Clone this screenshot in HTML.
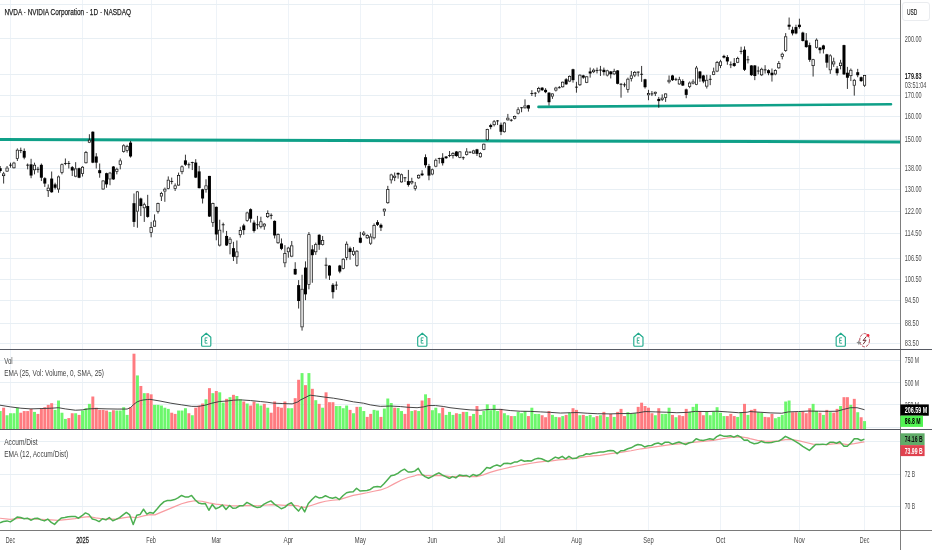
<!DOCTYPE html>
<html><head><meta charset="utf-8"><title>NVDA chart</title>
<style>html,body{margin:0;padding:0;background:#fff;}body{width:932px;height:550px;overflow:hidden;position:relative;font-family:"Liberation Sans",sans-serif;}</style>
</head><body>
<svg width="932" height="550" viewBox="0 0 932 550" style="position:absolute;left:0;top:0;font-family:'Liberation Sans',sans-serif;filter:blur(0.3px)">
<rect width="932" height="550" fill="#fff"/>
<g stroke="#eef3f8" stroke-width="1" shape-rendering="crispEdges">
<line x1="10.5" x2="10.5" y1="0" y2="530"/>
<line x1="82.5" x2="82.5" y1="0" y2="530"/>
<line x1="151.5" x2="151.5" y1="0" y2="530"/>
<line x1="216.5" x2="216.5" y1="0" y2="530"/>
<line x1="288.5" x2="288.5" y1="0" y2="530"/>
<line x1="360.5" x2="360.5" y1="0" y2="530"/>
<line x1="432.5" x2="432.5" y1="0" y2="530"/>
<line x1="500.5" x2="500.5" y1="0" y2="530"/>
<line x1="576.5" x2="576.5" y1="0" y2="530"/>
<line x1="648.5" x2="648.5" y1="0" y2="530"/>
<line x1="720.5" x2="720.5" y1="0" y2="530"/>
<line x1="799.5" x2="799.5" y1="0" y2="530"/>
<line x1="864.5" x2="864.5" y1="0" y2="530"/>
</g>
<g stroke="#e8eff4" stroke-width="1" shape-rendering="crispEdges">
<line x1="0" x2="900" y1="4.5" y2="4.5"/>
<line x1="0" x2="900" y1="38.5" y2="38.5"/>
<line x1="0" x2="900" y1="74.5" y2="74.5"/>
<line x1="0" x2="900" y1="95.5" y2="95.5"/>
<line x1="0" x2="900" y1="116.5" y2="116.5"/>
<line x1="0" x2="900" y1="139.5" y2="139.5"/>
<line x1="0" x2="900" y1="168.5" y2="168.5"/>
<line x1="0" x2="900" y1="189.5" y2="189.5"/>
<line x1="0" x2="900" y1="211.5" y2="211.5"/>
<line x1="0" x2="900" y1="233.5" y2="233.5"/>
<line x1="0" x2="900" y1="258.5" y2="258.5"/>
<line x1="0" x2="900" y1="279.5" y2="279.5"/>
<line x1="0" x2="900" y1="300.5" y2="300.5"/>
<line x1="0" x2="900" y1="323.5" y2="323.5"/>
<line x1="0" x2="900" y1="343.5" y2="343.5"/>
<line x1="0" x2="900" y1="360.5" y2="360.5"/>
<line x1="0" x2="900" y1="382.5" y2="382.5"/>
<line x1="0" x2="900" y1="404.5" y2="404.5"/>
<line x1="0" x2="900" y1="427.5" y2="427.5"/>
<line x1="0" x2="900" y1="441.5" y2="441.5"/>
<line x1="0" x2="900" y1="474.5" y2="474.5"/>
<line x1="0" x2="900" y1="506.5" y2="506.5"/>
</g>
<line x1="0" y1="139.6" x2="900" y2="141.9" stroke="#0fa088" stroke-width="3"/>
<line x1="538.5" y1="106.9" x2="891" y2="104.3" stroke="#0fa088" stroke-width="2.6" stroke-linecap="round"/>
<g stroke="#000" stroke-width="0.8" fill="#000">
<path d="M0.21 166V172.69" fill="none"/><rect x="-1.29" y="168.18" width="3.0" height="2.84" stroke="none"/>
<path d="M3.64 171.86V173.53M3.64 176.04V183.56" fill="none"/><rect x="2.49" y="173.88" width="2.3" height="1.81" fill="#fff" stroke-width="0.7"/>
<path d="M7.07 166V167.68M7.07 171.52V171.86" fill="none"/><rect x="5.92" y="168.03" width="2.3" height="3.15" fill="#fff" stroke-width="0.7"/>
<path d="M10.5 162.66V167.68M9 165.17H12" fill="none"/>
<path d="M13.93 161.82V162.66M13.93 168.18V168.51" fill="none"/><rect x="12.78" y="163.01" width="2.3" height="4.82" fill="#fff" stroke-width="0.7"/>
<path d="M17.36 148.44V149.78M17.36 158.81V160.99" fill="none"/><rect x="16.21" y="150.13" width="2.3" height="8.33" fill="#fff" stroke-width="0.7"/>
<path d="M20.79 147.61V153.13M19.29 150.45H22.29" fill="none"/>
<path d="M24.22 148.44V159.31" fill="none"/><rect x="22.72" y="150.95" width="3.0" height="6.69" stroke="none"/>
<path d="M27.65 163.49V169.35M26.15 165.17H29.15" fill="none"/>
<path d="M31.08 158.81V178.21" fill="none"/><rect x="29.58" y="164.33" width="3.0" height="11.2" stroke="none"/>
<path d="M34.51 162.66V164.83M34.51 170.18V174.36" fill="none"/><rect x="33.36" y="165.18" width="2.3" height="4.65" fill="#fff" stroke-width="0.7"/>
<path d="M37.94 166.84V172.69M36.44 169.35H39.44" fill="none"/>
<path d="M41.37 163.49V181.05" fill="none"/><rect x="39.87" y="164.83" width="3.0" height="12.88" stroke="none"/>
<path d="M44.8 177.21V186.91" fill="none"/><rect x="43.3" y="178.21" width="3.0" height="5.35" stroke="none"/>
<path d="M48.23 184.4V187.74M48.23 191.09V196.94" fill="none"/><rect x="47.08" y="188.09" width="2.3" height="2.64" fill="#fff" stroke-width="0.7"/>
<path d="M51.66 171.52V192.76" fill="none"/><rect x="50.16" y="178.55" width="3.0" height="13.71" stroke="none"/>
<path d="M55.09 182.73V189.41" fill="none"/><rect x="53.59" y="184.4" width="3.0" height="3.34" stroke="none"/>
<path d="M58.52 175.54V176.54M58.52 189.41V192.76" fill="none"/><rect x="57.37" y="176.89" width="2.3" height="12.18" fill="#fff" stroke-width="0.7"/>
<path d="M61.95 163.49V164.33M61.95 172.69V174.36" fill="none"/><rect x="60.8" y="164.68" width="2.3" height="7.66" fill="#fff" stroke-width="0.7"/>
<path d="M65.38 158.48V165.17M63.88 163.49H66.88" fill="none"/>
<path d="M68.81 160.99V168.51M67.31 163.49H70.31" fill="none"/>
<path d="M72.24 166V176.04" fill="none"/><rect x="70.74" y="167.17" width="3.0" height="3.34" stroke="none"/>
<path d="M75.67 162.16V168.51M75.67 176.54V177.21" fill="none"/><rect x="74.52" y="168.86" width="2.3" height="7.33" fill="#fff" stroke-width="0.7"/>
<path d="M79.1 167.68V178.21" fill="none"/><rect x="77.6" y="168.18" width="3.0" height="9.53" stroke="none"/>
<path d="M82.53 166V166.84M82.53 173.86V176.54" fill="none"/><rect x="81.38" y="167.19" width="2.3" height="6.32" fill="#fff" stroke-width="0.7"/>
<path d="M85.96 150.95V152.12M85.96 163.16V163.49" fill="none"/><rect x="84.81" y="152.47" width="2.3" height="10.34" fill="#fff" stroke-width="0.7"/>
<path d="M89.39 134.23V139.75M89.39 142.59V143.09" fill="none"/><rect x="88.24" y="140.1" width="2.3" height="2.14" fill="#fff" stroke-width="0.7"/>
<path d="M92.82 131.39V163.16" fill="none"/><rect x="91.32" y="131.72" width="3.0" height="30.94" stroke="none"/>
<path d="M96.25 153.13V168.51" fill="none"/><rect x="94.75" y="156.47" width="3.0" height="6.19" stroke="none"/>
<path d="M99.68 163.49V177.71" fill="none"/><rect x="98.18" y="170.18" width="3.0" height="3.01" stroke="none"/>
<path d="M103.11 180.22V180.55M103.11 189.41V189.75" fill="none"/><rect x="101.96" y="180.9" width="2.3" height="8.16" fill="#fff" stroke-width="0.7"/>
<path d="M106.54 172.69V187.74" fill="none"/><rect x="105.04" y="173.19" width="3.0" height="11.2" stroke="none"/>
<path d="M109.97 171.86V172.69M109.97 179.38V185.23" fill="none"/><rect x="108.82" y="173.04" width="2.3" height="5.99" fill="#fff" stroke-width="0.7"/>
<path d="M113.4 166V179.88" fill="none"/><rect x="111.9" y="166.51" width="3.0" height="12.88" stroke="none"/>
<path d="M116.83 167.68V168.85M116.83 171.86V174.36" fill="none"/><rect x="115.68" y="169.2" width="2.3" height="2.31" fill="#fff" stroke-width="0.7"/>
<path d="M120.26 158.48V160.48M120.26 164.83V169.35" fill="none"/><rect x="119.11" y="160.83" width="2.3" height="3.65" fill="#fff" stroke-width="0.7"/>
<path d="M123.69 144.26V145.43M123.69 151.79V152.63" fill="none"/><rect x="122.54" y="145.78" width="2.3" height="5.65" fill="#fff" stroke-width="0.7"/>
<path d="M127.12 144.77V145.94M127.12 150.95V152.63" fill="none"/><rect x="125.97" y="146.29" width="2.3" height="4.32" fill="#fff" stroke-width="0.7"/>
<path d="M130.55 140.92V157.64" fill="none"/><rect x="129.05" y="142.59" width="3.0" height="13.88" stroke="none"/>
<path d="M133.98 193.48V226.92" fill="none"/><rect x="132.48" y="203.18" width="3.0" height="18.73" stroke="none"/>
<path d="M137.41 190.97V191.47M137.41 211.54V227.76" fill="none"/><rect x="136.26" y="191.82" width="2.3" height="19.37" fill="#fff" stroke-width="0.7"/>
<path d="M140.84 197.66V216.05" fill="none"/><rect x="139.34" y="198.49" width="3.0" height="7.53" stroke="none"/>
<path d="M144.27 202.68V204.35M144.27 208.19V221.91" fill="none"/><rect x="143.12" y="204.7" width="2.3" height="3.15" fill="#fff" stroke-width="0.7"/>
<path d="M147.7 194.82V217.73" fill="none"/><rect x="146.2" y="206.02" width="3.0" height="10.87" stroke="none"/>
<path d="M151.13 221.91V227.26M151.13 232.78V237.29" fill="none"/><rect x="149.98" y="227.61" width="2.3" height="4.82" fill="#fff" stroke-width="0.7"/>
<path d="M154.56 214.38V220.57M154.56 226.59V226.92" fill="none"/><rect x="153.41" y="220.92" width="2.3" height="5.32" fill="#fff" stroke-width="0.7"/>
<path d="M157.99 202.68V203.18M157.99 211.87V213.55" fill="none"/><rect x="156.84" y="203.53" width="2.3" height="8" fill="#fff" stroke-width="0.7"/>
<path d="M161.42 191.81V193.14M161.42 196.49V201" fill="none"/><rect x="160.27" y="193.49" width="2.3" height="2.64" fill="#fff" stroke-width="0.7"/>
<path d="M164.85 187.63V188.8M164.85 191.47V201.84" fill="none"/><rect x="163.7" y="189.15" width="2.3" height="1.98" fill="#fff" stroke-width="0.7"/>
<path d="M168.28 176.42V179.77M168.28 188.8V189.3" fill="none"/><rect x="167.13" y="180.12" width="2.3" height="8.33" fill="#fff" stroke-width="0.7"/>
<path d="M171.71 177.59V184.28M170.21 181.44H173.21" fill="none"/>
<path d="M175.14 183.44V185.45M175.14 188.8V190.97" fill="none"/><rect x="173.99" y="185.8" width="2.3" height="2.64" fill="#fff" stroke-width="0.7"/>
<path d="M178.57 172.58V175.08M178.57 185.45V185.95" fill="none"/><rect x="177.42" y="175.43" width="2.3" height="9.67" fill="#fff" stroke-width="0.7"/>
<path d="M182 165.38V166.39M182 172.07V174.25" fill="none"/><rect x="180.85" y="166.74" width="2.3" height="4.99" fill="#fff" stroke-width="0.7"/>
<path d="M185.43 154.68V165.89" fill="none"/><rect x="183.93" y="160.37" width="3.0" height="4.35" stroke="none"/>
<path d="M188.86 162.54V168.39M187.36 164.72H190.36" fill="none"/>
<path d="M192.29 161.71V170.07M190.79 162.54H193.79" fill="none"/>
<path d="M195.72 159.2V178.09" fill="none"/><rect x="194.22" y="162.54" width="3.0" height="15.05" stroke="none"/>
<path d="M199.15 165.89V188.46" fill="none"/><rect x="197.65" y="171.4" width="3.0" height="16.72" stroke="none"/>
<path d="M202.58 188.8V203.51" fill="none"/><rect x="201.08" y="189.3" width="3.0" height="9.2" stroke="none"/>
<path d="M206.01 179.26V185.45M206.01 189.8V192.64" fill="none"/><rect x="204.86" y="185.8" width="2.3" height="3.65" fill="#fff" stroke-width="0.7"/>
<path d="M209.44 175.92V216.89" fill="none"/><rect x="207.94" y="175.92" width="3.0" height="40.64" stroke="none"/>
<path d="M212.87 202.68V203.18M212.87 222.74V226.92" fill="none"/><rect x="211.72" y="203.53" width="2.3" height="18.87" fill="#fff" stroke-width="0.7"/>
<path d="M216.3 206.52V240.3" fill="none"/><rect x="214.8" y="206.86" width="3.0" height="27.59" stroke="none"/>
<path d="M219.73 219.73V229.77M219.73 245.48V246.49" fill="none"/><rect x="218.58" y="230.12" width="2.3" height="15.02" fill="#fff" stroke-width="0.7"/>
<path d="M223.16 222.58V232.61M221.66 224.75H224.66" fill="none"/>
<path d="M226.59 230.94V245.99" fill="none"/><rect x="225.09" y="235.95" width="3.0" height="9.53" stroke="none"/>
<path d="M230.02 237.12V238.8M230.02 243.81V254.35" fill="none"/><rect x="228.87" y="239.15" width="2.3" height="4.32" fill="#fff" stroke-width="0.7"/>
<path d="M233.45 241.81V261.04" fill="none"/><rect x="231.95" y="248.16" width="3.0" height="8.7" stroke="none"/>
<path d="M236.88 240.47V251.51M236.88 257.19V263.88" fill="none"/><rect x="235.73" y="251.86" width="2.3" height="4.99" fill="#fff" stroke-width="0.7"/>
<path d="M240.31 226.76V230.1M240.31 235.12V237.63" fill="none"/><rect x="239.16" y="230.45" width="2.3" height="4.32" fill="#fff" stroke-width="0.7"/>
<path d="M243.74 223.75V234.78" fill="none"/><rect x="242.24" y="225.42" width="3.0" height="4.68" stroke="none"/>
<path d="M247.17 211.71V212.54M247.17 220.9V221.74" fill="none"/><rect x="246.02" y="212.89" width="2.3" height="7.66" fill="#fff" stroke-width="0.7"/>
<path d="M250.6 208.36V222.58" fill="none"/><rect x="249.1" y="209.2" width="3.0" height="9.53" stroke="none"/>
<path d="M254.03 220.4V232.61" fill="none"/><rect x="252.53" y="222.58" width="3.0" height="8.36" stroke="none"/>
<path d="M257.46 215.89V229.26M255.96 224.75H258.96" fill="none"/>
<path d="M260.89 216.72V221.4M260.89 227.09V228.43" fill="none"/><rect x="259.74" y="221.75" width="2.3" height="4.99" fill="#fff" stroke-width="0.7"/>
<path d="M264.32 223.08V223.75M264.32 226.42V229.77" fill="none"/><rect x="263.17" y="224.1" width="2.3" height="1.98" fill="#fff" stroke-width="0.7"/>
<path d="M267.75 210.37V213.04M267.75 217.06V218.06" fill="none"/><rect x="266.6" y="213.39" width="2.3" height="3.31" fill="#fff" stroke-width="0.7"/>
<path d="M271.18 213.38V219.23M269.68 215.38H272.68" fill="none"/>
<path d="M274.61 220.4V238.46" fill="none"/><rect x="273.11" y="220.9" width="3.0" height="14.55" stroke="none"/>
<path d="M278.04 233.44V234.28M278.04 243.14V243.81" fill="none"/><rect x="276.89" y="234.63" width="2.3" height="8.16" fill="#fff" stroke-width="0.7"/>
<path d="M281.47 238.46V250.17" fill="none"/><rect x="279.97" y="243.48" width="3.0" height="5.35" stroke="none"/>
<path d="M284.9 245.15V253.18M284.9 263.21V267.22" fill="none"/><rect x="283.75" y="253.53" width="2.3" height="9.33" fill="#fff" stroke-width="0.7"/>
<path d="M288.33 246.82V247.66M288.33 252.17V257.69" fill="none"/><rect x="287.18" y="248.01" width="2.3" height="3.82" fill="#fff" stroke-width="0.7"/>
<path d="M291.76 240.97V245.48M291.76 256.52V257.19" fill="none"/><rect x="290.61" y="245.83" width="2.3" height="10.34" fill="#fff" stroke-width="0.7"/>
<path d="M295.19 262.21V274.92" fill="none"/><rect x="293.69" y="268.9" width="3.0" height="5.52" stroke="none"/>
<path d="M298.62 280.12V308.55" fill="none"/><rect x="297.12" y="285.13" width="3.0" height="15.89" stroke="none"/>
<path d="M302.05 274.77V288.81M302.05 327.27V330.62" fill="none"/><rect x="300.9" y="289.16" width="2.3" height="37.76" fill="#fff" stroke-width="0.7"/>
<path d="M305.48 261.39V300.18" fill="none"/><rect x="303.98" y="267.58" width="3.0" height="26.76" stroke="none"/>
<path d="M308.91 232.1V234.3M308.91 284.8V289.3" fill="none"/><rect x="307.76" y="234.65" width="2.3" height="49.8" fill="#fff" stroke-width="0.7"/>
<path d="M312.34 245.15V282.78" fill="none"/><rect x="310.84" y="249.33" width="3.0" height="5.85" stroke="none"/>
<path d="M315.77 242.64V244.31M315.77 252.17V254.85" fill="none"/><rect x="314.62" y="244.66" width="2.3" height="7.16" fill="#fff" stroke-width="0.7"/>
<path d="M319.2 234.28V249.83" fill="none"/><rect x="317.7" y="234.78" width="3.0" height="10.03" stroke="none"/>
<path d="M322.63 235.95V240.13M322.63 244.82V245.48" fill="none"/><rect x="321.48" y="240.48" width="2.3" height="3.98" fill="#fff" stroke-width="0.7"/>
<path d="M326.06 257.69V278.6M324.56 265.22H327.56" fill="none"/>
<path d="M329.49 265.22V279.93" fill="none"/><rect x="327.99" y="265.55" width="3.0" height="10.03" stroke="none"/>
<path d="M332.92 283.13V298.51" fill="none"/><rect x="331.42" y="284.8" width="3.0" height="7.36" stroke="none"/>
<path d="M336.35 281.45V289.82M334.85 285.13H337.85" fill="none"/>
<path d="M339.78 264.88V273.24" fill="none"/><rect x="338.28" y="265.55" width="3.0" height="6.02" stroke="none"/>
<path d="M343.21 258.19V258.86M343.21 268.9V269.4" fill="none"/><rect x="342.06" y="259.21" width="2.3" height="9.33" fill="#fff" stroke-width="0.7"/>
<path d="M346.64 241.47V243.81M346.64 257.69V260.2" fill="none"/><rect x="345.49" y="244.16" width="2.3" height="13.18" fill="#fff" stroke-width="0.7"/>
<path d="M350.07 246.67V259.72" fill="none"/><rect x="348.57" y="248.34" width="3.0" height="3.68" stroke="none"/>
<path d="M353.5 247.01V250.85M353.5 254.7V255.87" fill="none"/><rect x="352.35" y="251.2" width="2.3" height="3.15" fill="#fff" stroke-width="0.7"/>
<path d="M356.93 250.02V250.85M356.93 265.9V266.74" fill="none"/><rect x="355.78" y="251.2" width="2.3" height="14.35" fill="#fff" stroke-width="0.7"/>
<path d="M360.36 231.86V243.23" fill="none"/><rect x="358.86" y="237.71" width="3.0" height="5.02" stroke="none"/>
<path d="M363.79 231.02V232.69M363.79 234.87V236.04" fill="none"/><rect x="362.64" y="233.04" width="2.3" height="1.47" fill="#fff" stroke-width="0.7"/>
<path d="M367.22 234.36V235.2M367.22 238.21V238.88" fill="none"/><rect x="366.07" y="235.55" width="2.3" height="2.31" fill="#fff" stroke-width="0.7"/>
<path d="M370.65 233.53V236.54M370.65 243.56V244.9" fill="none"/><rect x="369.5" y="236.89" width="2.3" height="6.32" fill="#fff" stroke-width="0.7"/>
<path d="M374.08 223.49V225.17M374.08 238.21V239.38" fill="none"/><rect x="372.93" y="225.52" width="2.3" height="12.34" fill="#fff" stroke-width="0.7"/>
<path d="M377.51 220.15V226" fill="none"/><rect x="376.01" y="222.16" width="3.0" height="2.68" stroke="none"/>
<path d="M380.94 223.49V231.02" fill="none"/><rect x="379.44" y="224.83" width="3.0" height="2.84" stroke="none"/>
<path d="M384.37 208.44V208.78M384.37 211.45V215.97" fill="none"/><rect x="383.22" y="209.13" width="2.3" height="1.98" fill="#fff" stroke-width="0.7"/>
<path d="M387.8 185.87V189.21M387.8 203.09V203.76" fill="none"/><rect x="386.65" y="189.56" width="2.3" height="13.18" fill="#fff" stroke-width="0.7"/>
<path d="M391.23 173.73V174.55M391.23 180.28V183.55" fill="none"/><rect x="390.08" y="174.9" width="2.3" height="5.03" fill="#fff" stroke-width="0.7"/>
<path d="M394.66 172.5V175.78M394.66 177.82V181.1" fill="none"/><rect x="393.51" y="176.13" width="2.3" height="1.35" fill="#fff" stroke-width="0.7"/>
<path d="M398.09 172.5V178.64" fill="none"/><rect x="396.59" y="172.91" width="3.0" height="1.64" stroke="none"/>
<path d="M401.52 173.58V174.41M401.52 182.27V182.78" fill="none"/><rect x="400.37" y="174.76" width="2.3" height="7.16" fill="#fff" stroke-width="0.7"/>
<path d="M404.95 177.26V181.94M403.45 177.76H406.45" fill="none"/>
<path d="M408.38 169.9V186.62" fill="none"/><rect x="406.88" y="181.1" width="3.0" height="3.85" stroke="none"/>
<path d="M411.81 177.76V181.1M411.81 183.28V184.45" fill="none"/><rect x="410.66" y="181.45" width="2.3" height="1.47" fill="#fff" stroke-width="0.7"/>
<path d="M415.24 181.94V185.62M415.24 188.96V190.64" fill="none"/><rect x="414.09" y="185.97" width="2.3" height="2.64" fill="#fff" stroke-width="0.7"/>
<path d="M418.67 174.41V174.92M418.67 178.26V178.93" fill="none"/><rect x="417.52" y="175.27" width="2.3" height="2.64" fill="#fff" stroke-width="0.7"/>
<path d="M422.1 170.23V176.09" fill="none"/><rect x="420.6" y="173.58" width="3.0" height="1.67" stroke="none"/>
<path d="M425.53 154.35V167.73" fill="none"/><rect x="424.03" y="157.19" width="3.0" height="8.03" stroke="none"/>
<path d="M428.96 163.88V180.27" fill="none"/><rect x="427.46" y="166.05" width="3.0" height="9.53" stroke="none"/>
<path d="M432.39 168.56V169.4M432.39 174.41V175.25" fill="none"/><rect x="431.24" y="169.75" width="2.3" height="4.32" fill="#fff" stroke-width="0.7"/>
<path d="M435.82 158.53V159.87M435.82 166.56V167.22" fill="none"/><rect x="434.67" y="160.22" width="2.3" height="5.99" fill="#fff" stroke-width="0.7"/>
<path d="M439.25 157.69V163.55M437.75 158.53H440.75" fill="none"/>
<path d="M442.68 153.18V165.55" fill="none"/><rect x="441.18" y="157.69" width="3.0" height="5.52" stroke="none"/>
<path d="M446.11 156.02V158.86" fill="none"/><rect x="444.61" y="156.52" width="3.0" height="1.67" stroke="none"/>
<path d="M449.54 151V157.19M448.04 155.52H451.04" fill="none"/>
<path d="M452.97 152.17V153.18M452.97 156.02V158.53" fill="none"/><rect x="451.82" y="153.53" width="2.3" height="2.14" fill="#fff" stroke-width="0.7"/>
<path d="M456.4 151V156.86" fill="none"/><rect x="454.9" y="151.51" width="3.0" height="4.52" stroke="none"/>
<path d="M459.83 151V151.51M459.83 157.69V158.19" fill="none"/><rect x="458.68" y="151.86" width="2.3" height="5.49" fill="#fff" stroke-width="0.7"/>
<path d="M463.26 156.52V159.87M461.76 157.69H464.76" fill="none"/>
<path d="M466.69 148.16V151.51M466.69 154.85V155.52" fill="none"/><rect x="465.54" y="151.86" width="2.3" height="2.64" fill="#fff" stroke-width="0.7"/>
<path d="M470.12 151.51V153.18M468.62 152.17H471.62" fill="none"/>
<path d="M473.55 149.83V150.5M473.55 153.51V153.85" fill="none"/><rect x="472.4" y="150.85" width="2.3" height="2.31" fill="#fff" stroke-width="0.7"/>
<path d="M476.98 148.83V156.02" fill="none"/><rect x="475.48" y="149.33" width="3.0" height="4.52" stroke="none"/>
<path d="M480.41 152.17V153.18M480.41 157.19V157.69" fill="none"/><rect x="479.26" y="153.53" width="2.3" height="3.31" fill="#fff" stroke-width="0.7"/>
<path d="M483.84 143.48V143.81M483.84 149.83V150.17" fill="none"/><rect x="482.69" y="144.16" width="2.3" height="5.32" fill="#fff" stroke-width="0.7"/>
<path d="M487.27 128.76V129.26M487.27 140.13V140.64" fill="none"/><rect x="486.12" y="129.61" width="2.3" height="10.17" fill="#fff" stroke-width="0.7"/>
<path d="M490.7 123.75V129.26" fill="none"/><rect x="489.2" y="125.08" width="3.0" height="2.01" stroke="none"/>
<path d="M494.13 120.07V121.4M494.13 125.08V126.42" fill="none"/><rect x="492.98" y="121.75" width="2.3" height="2.98" fill="#fff" stroke-width="0.7"/>
<path d="M497.56 120.07V125.08M496.06 120.9H499.06" fill="none"/>
<path d="M500.99 122.58V135.12" fill="none"/><rect x="499.49" y="124.75" width="3.0" height="7.02" stroke="none"/>
<path d="M504.42 122.07V122.58M504.42 132.11V132.61" fill="none"/><rect x="503.27" y="122.93" width="2.3" height="8.83" fill="#fff" stroke-width="0.7"/>
<path d="M507.85 113.91V117.76M507.85 120.27V120.6" fill="none"/><rect x="506.7" y="118.11" width="2.3" height="1.81" fill="#fff" stroke-width="0.7"/>
<path d="M511.28 118.93V121.61M509.78 120.27H512.78" fill="none"/>
<path d="M514.71 115.59V116.09M514.71 118.6V119.43" fill="none"/><rect x="513.56" y="116.44" width="2.3" height="1.81" fill="#fff" stroke-width="0.7"/>
<path d="M518.14 107.22V109.4M518.14 113.58V114.41" fill="none"/><rect x="516.99" y="109.75" width="2.3" height="3.48" fill="#fff" stroke-width="0.7"/>
<path d="M521.57 107.22V112.24M520.07 107.73H523.07" fill="none"/>
<path d="M525 99.36V105.55M525 108.23V108.56" fill="none"/><rect x="523.85" y="105.9" width="2.3" height="1.98" fill="#fff" stroke-width="0.7"/>
<path d="M528.43 104.88V111.57" fill="none"/><rect x="526.93" y="105.22" width="3.0" height="3.34" stroke="none"/>
<path d="M531.86 90.17V96.02M530.36 93.51H533.36" fill="none"/>
<path d="M535.29 92.17V96.86M533.79 93.18H536.79" fill="none"/>
<path d="M538.72 86.82V88.16M538.72 91.51V93.18" fill="none"/><rect x="537.57" y="88.51" width="2.3" height="2.64" fill="#fff" stroke-width="0.7"/>
<path d="M542.15 87.16V91" fill="none"/><rect x="540.65" y="87.66" width="3.0" height="2.51" stroke="none"/>
<path d="M545.58 88.16V93.18" fill="none"/><rect x="544.08" y="89.83" width="3.0" height="2.34" stroke="none"/>
<path d="M549.01 92.17V105.55" fill="none"/><rect x="547.51" y="92.68" width="3.0" height="9.53" stroke="none"/>
<path d="M552.44 93.18V93.51M552.44 96.52V98.86" fill="none"/><rect x="551.29" y="93.86" width="2.3" height="2.31" fill="#fff" stroke-width="0.7"/>
<path d="M555.87 86.82V87.66M555.87 90.5V91.51" fill="none"/><rect x="554.72" y="88.01" width="2.3" height="2.14" fill="#fff" stroke-width="0.7"/>
<path d="M559.3 85.99V88.49M557.8 87.66H560.8" fill="none"/>
<path d="M562.73 81.47V81.81M562.73 87.16V87.66" fill="none"/><rect x="561.58" y="82.16" width="2.3" height="4.65" fill="#fff" stroke-width="0.7"/>
<path d="M566.16 78.13V84.82" fill="none"/><rect x="564.66" y="79.3" width="3.0" height="5.02" stroke="none"/>
<path d="M569.59 75.45V75.95M569.59 81.47V82.14" fill="none"/><rect x="568.44" y="76.3" width="2.3" height="4.82" fill="#fff" stroke-width="0.7"/>
<path d="M573.02 68.76V82.64" fill="none"/><rect x="571.52" y="69.26" width="3.0" height="10.87" stroke="none"/>
<path d="M576.45 81.81V92.68M574.95 87.16H577.95" fill="none"/>
<path d="M579.88 74.28V74.78M579.88 85.15V85.99" fill="none"/><rect x="578.73" y="75.13" width="2.3" height="9.67" fill="#fff" stroke-width="0.7"/>
<path d="M583.31 74.78V78.8" fill="none"/><rect x="581.81" y="75.45" width="3.0" height="2.17" stroke="none"/>
<path d="M586.74 75.95V76.45M586.74 82.64V83.14" fill="none"/><rect x="585.59" y="76.8" width="2.3" height="5.49" fill="#fff" stroke-width="0.7"/>
<path d="M590.17 67.59V77.63" fill="none"/><rect x="588.67" y="71.44" width="3.0" height="2.01" stroke="none"/>
<path d="M593.6 68.43V69.77M593.6 72.11V73.11" fill="none"/><rect x="592.45" y="70.12" width="2.3" height="1.64" fill="#fff" stroke-width="0.7"/>
<path d="M597.03 67.59V73.44M595.53 70.43H598.53" fill="none"/>
<path d="M600.46 65.92V75.95M598.96 70.1H601.96" fill="none"/>
<path d="M603.89 67.59V75.45" fill="none"/><rect x="602.39" y="69.77" width="3.0" height="2.34" stroke="none"/>
<path d="M607.32 69.77V70.43M607.32 75.45V76.45" fill="none"/><rect x="606.17" y="70.78" width="2.3" height="4.32" fill="#fff" stroke-width="0.7"/>
<path d="M610.75 70.94V78.46" fill="none"/><rect x="609.25" y="71.44" width="3.0" height="2.84" stroke="none"/>
<path d="M614.18 68.76V70.94M614.18 74.28V75.12" fill="none"/><rect x="613.03" y="71.29" width="2.3" height="2.64" fill="#fff" stroke-width="0.7"/>
<path d="M617.61 70.1V84.31" fill="none"/><rect x="616.11" y="70.43" width="3.0" height="13.38" stroke="none"/>
<path d="M621.04 83.14V97.69M619.54 84.31H622.54" fill="none"/>
<path d="M624.47 82.64V87.16M622.97 84.82H625.97" fill="none"/>
<path d="M627.9 77.63V78.8M627.9 89.83V92.68" fill="none"/><rect x="626.75" y="79.15" width="2.3" height="10.34" fill="#fff" stroke-width="0.7"/>
<path d="M631.33 70.94V75.45M631.33 78.8V81.47" fill="none"/><rect x="630.18" y="75.8" width="2.3" height="2.64" fill="#fff" stroke-width="0.7"/>
<path d="M634.76 70.94V72.11M634.76 75.45V77.12" fill="none"/><rect x="633.61" y="72.46" width="2.3" height="2.64" fill="#fff" stroke-width="0.7"/>
<path d="M638.19 71.44V76.45M636.69 72.11H639.69" fill="none"/>
<path d="M641.62 65.95V81.84M640.12 74.31H643.12" fill="none"/>
<path d="M645.05 78.83V88.53" fill="none"/><rect x="643.55" y="79.33" width="3.0" height="7.86" stroke="none"/>
<path d="M648.48 89.87V93.21M648.48 95.22V100.23" fill="none"/><rect x="647.33" y="93.56" width="2.3" height="1.31" fill="#fff" stroke-width="0.7"/>
<path d="M651.91 91.04V96.05M650.41 93.88H653.41" fill="none"/>
<path d="M655.34 91.54V91.87M655.34 93.88V96.05" fill="none"/><rect x="654.19" y="92.22" width="2.3" height="1.31" fill="#fff" stroke-width="0.7"/>
<path d="M658.77 96.89V107.76" fill="none"/><rect x="657.27" y="98.9" width="3.0" height="2.17" stroke="none"/>
<path d="M662.2 94.38V97.73M662.2 99.9V101.07" fill="none"/><rect x="661.05" y="98.08" width="2.3" height="1.47" fill="#fff" stroke-width="0.7"/>
<path d="M665.63 93.21V93.55M665.63 97.73V101.91" fill="none"/><rect x="664.48" y="93.9" width="2.3" height="3.48" fill="#fff" stroke-width="0.7"/>
<path d="M669.06 75.48V79.83M669.06 82.17V83.51" fill="none"/><rect x="667.91" y="80.18" width="2.3" height="1.64" fill="#fff" stroke-width="0.7"/>
<path d="M672.49 74.82V81" fill="none"/><rect x="670.99" y="75.48" width="3.0" height="4.68" stroke="none"/>
<path d="M675.92 77.66V81M674.42 79.33H677.42" fill="none"/>
<path d="M679.35 76.82V79.33M679.35 84.35V84.85" fill="none"/><rect x="678.2" y="79.68" width="2.3" height="4.32" fill="#fff" stroke-width="0.7"/>
<path d="M682.78 79.33V86.02" fill="none"/><rect x="681.28" y="81" width="3.0" height="4.52" stroke="none"/>
<path d="M686.21 88.53V98.23" fill="none"/><rect x="684.71" y="89.36" width="3.0" height="5.52" stroke="none"/>
<path d="M689.64 81.51V82.68M689.64 86.86V88.19" fill="none"/><rect x="688.49" y="83.03" width="2.3" height="3.48" fill="#fff" stroke-width="0.7"/>
<path d="M693.07 79.33V81.51M693.07 83.51V84.35" fill="none"/><rect x="691.92" y="81.86" width="2.3" height="1.31" fill="#fff" stroke-width="0.7"/>
<path d="M696.5 65.95V67.63M696.5 84.85V85.18" fill="none"/><rect x="695.35" y="67.98" width="2.3" height="16.52" fill="#fff" stroke-width="0.7"/>
<path d="M699.93 70.97V81.84" fill="none"/><rect x="698.43" y="71.47" width="3.0" height="7.02" stroke="none"/>
<path d="M703.36 74.82V83.18" fill="none"/><rect x="701.86" y="75.48" width="3.0" height="6.02" stroke="none"/>
<path d="M706.79 74.82V79.83M706.79 86.52V88.53" fill="none"/><rect x="705.64" y="80.18" width="2.3" height="5.99" fill="#fff" stroke-width="0.7"/>
<path d="M710.22 75.15V85.18M708.72 79.33H711.72" fill="none"/>
<path d="M713.65 67.63V71.47M713.65 74.82V75.15" fill="none"/><rect x="712.5" y="71.82" width="2.3" height="2.64" fill="#fff" stroke-width="0.7"/>
<path d="M717.08 60.94V62.11M717.08 71.47V72.14" fill="none"/><rect x="715.93" y="62.46" width="2.3" height="8.66" fill="#fff" stroke-width="0.7"/>
<path d="M720.51 59.77V61.44M720.51 65.95V68.13" fill="none"/><rect x="719.36" y="61.79" width="2.3" height="3.82" fill="#fff" stroke-width="0.7"/>
<path d="M723.94 54.75V58.43" fill="none"/><rect x="722.44" y="55.92" width="3.0" height="1.67" stroke="none"/>
<path d="M727.37 55.08V64.78" fill="none"/><rect x="725.87" y="57.09" width="3.0" height="4.35" stroke="none"/>
<path d="M730.8 61.44V68.13M729.3 64.78H732.3" fill="none"/>
<path d="M734.23 58.09V66.79" fill="none"/><rect x="732.73" y="63.11" width="3.0" height="2.84" stroke="none"/>
<path d="M737.66 56.76V58.09M737.66 62.61V63.11" fill="none"/><rect x="736.51" y="58.44" width="2.3" height="3.82" fill="#fff" stroke-width="0.7"/>
<path d="M741.09 46.72V54.25M739.59 51.4H742.59" fill="none"/>
<path d="M744.52 46.39V70.97" fill="none"/><rect x="743.02" y="49.73" width="3.0" height="20.07" stroke="none"/>
<path d="M747.95 55.92V63.44M746.45 59.77H749.45" fill="none"/>
<path d="M751.38 65.12V75.99" fill="none"/><rect x="749.88" y="65.45" width="3.0" height="9.7" stroke="none"/>
<path d="M754.81 65.12V80.17" fill="none"/><rect x="753.31" y="65.45" width="3.0" height="10.54" stroke="none"/>
<path d="M758.24 66.52V74.38M756.74 71.04H759.74" fill="none"/>
<path d="M761.67 67.69V68.86M761.67 75.22V76.05" fill="none"/><rect x="760.52" y="69.21" width="2.3" height="5.65" fill="#fff" stroke-width="0.7"/>
<path d="M765.1 65.18V73.55M763.6 69.87H766.6" fill="none"/>
<path d="M768.53 69.36V75.22" fill="none"/><rect x="767.03" y="70.2" width="3.0" height="3.01" stroke="none"/>
<path d="M771.96 68.53V81.57" fill="none"/><rect x="770.46" y="72.71" width="3.0" height="2.51" stroke="none"/>
<path d="M775.39 69.36V70.2M775.39 74.38V75.22" fill="none"/><rect x="774.24" y="70.55" width="2.3" height="3.48" fill="#fff" stroke-width="0.7"/>
<path d="M778.82 61V63.18M778.82 68.19V68.86" fill="none"/><rect x="777.67" y="63.53" width="2.3" height="4.32" fill="#fff" stroke-width="0.7"/>
<path d="M782.25 52.64V53.81M782.25 56.82V59.33" fill="none"/><rect x="781.1" y="54.16" width="2.3" height="2.31" fill="#fff" stroke-width="0.7"/>
<path d="M785.68 33.08V36.42M785.68 50.97V51.81" fill="none"/><rect x="784.53" y="36.77" width="2.3" height="13.85" fill="#fff" stroke-width="0.7"/>
<path d="M789.11 17.53V29.73" fill="none"/><rect x="787.61" y="24.72" width="3.0" height="2.01" stroke="none"/>
<path d="M792.54 26.72V35.42" fill="none"/><rect x="791.04" y="29.73" width="3.0" height="3.68" stroke="none"/>
<path d="M795.97 24.72V34.25" fill="none"/><rect x="794.47" y="27.06" width="3.0" height="6.35" stroke="none"/>
<path d="M799.4 18.7V28.73" fill="none"/><rect x="797.9" y="24.72" width="3.0" height="2.34" stroke="none"/>
<path d="M802.83 31.74V41.44" fill="none"/><rect x="801.33" y="32.58" width="3.0" height="8.36" stroke="none"/>
<path d="M806.26 33.08V47.63" fill="none"/><rect x="804.76" y="40.43" width="3.0" height="6.69" stroke="none"/>
<path d="M809.69 42.61V61.84" fill="none"/><rect x="808.19" y="45.12" width="3.0" height="14.72" stroke="none"/>
<path d="M813.12 58.83V59.33M813.12 66.02V76.56" fill="none"/><rect x="811.97" y="59.68" width="2.3" height="5.99" fill="#fff" stroke-width="0.7"/>
<path d="M816.55 38.43V39.77M816.55 47.63V48.46" fill="none"/><rect x="815.4" y="40.12" width="2.3" height="7.16" fill="#fff" stroke-width="0.7"/>
<path d="M819.98 47.12V53.48" fill="none"/><rect x="818.48" y="47.63" width="3.0" height="2.51" stroke="none"/>
<path d="M823.41 44.78V53.48" fill="none"/><rect x="821.91" y="45.45" width="3.0" height="3.85" stroke="none"/>
<path d="M826.84 53.81V67.69" fill="none"/><rect x="825.34" y="54.31" width="3.0" height="8.36" stroke="none"/>
<path d="M830.27 54.31V55.48M830.27 70.2V73.88" fill="none"/><rect x="829.12" y="55.83" width="2.3" height="14.02" fill="#fff" stroke-width="0.7"/>
<path d="M833.7 57.66V61.51M833.7 64.35V66.86" fill="none"/><rect x="832.55" y="61.86" width="2.3" height="2.14" fill="#fff" stroke-width="0.7"/>
<path d="M837.13 66.02V75.55" fill="none"/><rect x="835.63" y="68.53" width="3.0" height="4.68" stroke="none"/>
<path d="M840.56 59.83V62.68M840.56 66.02V69.36" fill="none"/><rect x="839.41" y="63.03" width="2.3" height="2.64" fill="#fff" stroke-width="0.7"/>
<path d="M843.99 44.78V74.88" fill="none"/><rect x="842.49" y="45.12" width="3.0" height="29.26" stroke="none"/>
<path d="M847.42 66.86V88.93" fill="none"/><rect x="845.92" y="72.71" width="3.0" height="5.02" stroke="none"/>
<path d="M850.85 68.53V69.87M850.85 76.05V81.07" fill="none"/><rect x="849.7" y="70.22" width="2.3" height="5.49" fill="#fff" stroke-width="0.7"/>
<path d="M854.28 78.9V79.9M854.28 85.59V95.62" fill="none"/><rect x="853.13" y="80.25" width="2.3" height="4.99" fill="#fff" stroke-width="0.7"/>
<path d="M857.71 68.86V77.22" fill="none"/><rect x="856.21" y="72.21" width="3.0" height="3.01" stroke="none"/>
<path d="M861.14 76.56V81.91" fill="none"/><rect x="859.64" y="77.22" width="3.0" height="3.85" stroke="none"/>
<path d="M864.57 74.88V75.22M864.57 85.59V86.92" fill="none"/><rect x="863.42" y="75.57" width="2.3" height="9.67" fill="#fff" stroke-width="0.7"/>
</g>
<g fill="#6cf76c">
<rect x="-1.27" y="411.05" width="2.95" height="17.95"/>
<rect x="5.6" y="415.23" width="2.95" height="13.77"/>
<rect x="9.03" y="413.23" width="2.95" height="15.77"/>
<rect x="12.46" y="413.23" width="2.95" height="15.77"/>
<rect x="15.88" y="407.71" width="2.95" height="21.29"/>
<rect x="33.04" y="411.89" width="2.95" height="17.11"/>
<rect x="53.62" y="409.88" width="2.95" height="19.12"/>
<rect x="57.05" y="400.52" width="2.95" height="28.48"/>
<rect x="60.48" y="412.73" width="2.95" height="16.27"/>
<rect x="63.9" y="418.91" width="2.95" height="10.09"/>
<rect x="74.2" y="413.23" width="2.95" height="15.77"/>
<rect x="81.06" y="410.55" width="2.95" height="18.45"/>
<rect x="84.49" y="408.21" width="2.95" height="20.79"/>
<rect x="87.92" y="403.86" width="2.95" height="25.14"/>
<rect x="108.5" y="411.89" width="2.95" height="17.11"/>
<rect x="115.36" y="410.55" width="2.95" height="18.45"/>
<rect x="118.79" y="410.55" width="2.95" height="18.45"/>
<rect x="122.22" y="407.21" width="2.95" height="21.79"/>
<rect x="125.65" y="414.9" width="2.95" height="14.1"/>
<rect x="135.94" y="375.43" width="2.95" height="53.57"/>
<rect x="142.8" y="393.16" width="2.95" height="35.84"/>
<rect x="153.09" y="404.87" width="2.95" height="24.13"/>
<rect x="156.52" y="404.87" width="2.95" height="24.13"/>
<rect x="159.95" y="405.54" width="2.95" height="23.46"/>
<rect x="163.38" y="407.71" width="2.95" height="21.29"/>
<rect x="166.81" y="408.88" width="2.95" height="20.12"/>
<rect x="177.1" y="410.55" width="2.95" height="18.45"/>
<rect x="180.53" y="410.55" width="2.95" height="18.45"/>
<rect x="183.96" y="408.21" width="2.95" height="20.79"/>
<rect x="190.82" y="415.23" width="2.95" height="13.77"/>
<rect x="204.54" y="399.35" width="2.95" height="29.65"/>
<rect x="211.4" y="393.16" width="2.95" height="35.84"/>
<rect x="218.26" y="392.32" width="2.95" height="36.68"/>
<rect x="221.69" y="402.69" width="2.95" height="26.31"/>
<rect x="228.55" y="397.17" width="2.95" height="31.83"/>
<rect x="235.41" y="396" width="2.95" height="33"/>
<rect x="238.84" y="399.35" width="2.95" height="29.65"/>
<rect x="245.7" y="403.53" width="2.95" height="25.47"/>
<rect x="255.99" y="403.53" width="2.95" height="25.47"/>
<rect x="259.41" y="405.54" width="2.95" height="23.46"/>
<rect x="266.27" y="407.71" width="2.95" height="21.29"/>
<rect x="286.86" y="408.21" width="2.95" height="20.79"/>
<rect x="290.28" y="408.21" width="2.95" height="20.79"/>
<rect x="300.57" y="373.09" width="2.95" height="55.91"/>
<rect x="307.44" y="373.09" width="2.95" height="55.91"/>
<rect x="314.3" y="400.18" width="2.95" height="28.82"/>
<rect x="321.15" y="407.71" width="2.95" height="21.29"/>
<rect x="334.88" y="406.04" width="2.95" height="22.96"/>
<rect x="338.31" y="406.04" width="2.95" height="22.96"/>
<rect x="341.74" y="408.21" width="2.95" height="20.79"/>
<rect x="345.17" y="405.54" width="2.95" height="23.46"/>
<rect x="352.02" y="413.23" width="2.95" height="15.77"/>
<rect x="358.88" y="406.87" width="2.95" height="22.13"/>
<rect x="362.31" y="411.05" width="2.95" height="17.95"/>
<rect x="372.61" y="409.88" width="2.95" height="19.12"/>
<rect x="376.03" y="410.55" width="2.95" height="18.45"/>
<rect x="382.89" y="408.55" width="2.95" height="20.45"/>
<rect x="386.32" y="398.51" width="2.95" height="30.49"/>
<rect x="389.75" y="403.03" width="2.95" height="25.97"/>
<rect x="396.62" y="408.04" width="2.95" height="20.96"/>
<rect x="400.05" y="411.05" width="2.95" height="17.95"/>
<rect x="410.33" y="411.05" width="2.95" height="17.95"/>
<rect x="417.19" y="411.05" width="2.95" height="17.95"/>
<rect x="424.06" y="394.33" width="2.95" height="34.67"/>
<rect x="430.92" y="410.22" width="2.95" height="18.78"/>
<rect x="434.34" y="407.71" width="2.95" height="21.29"/>
<rect x="437.77" y="413.23" width="2.95" height="15.77"/>
<rect x="444.63" y="414.9" width="2.95" height="14.1"/>
<rect x="448.06" y="411.89" width="2.95" height="17.11"/>
<rect x="451.5" y="414.9" width="2.95" height="14.1"/>
<rect x="458.36" y="413.9" width="2.95" height="15.1"/>
<rect x="465.21" y="411.89" width="2.95" height="17.11"/>
<rect x="472.07" y="413.9" width="2.95" height="15.1"/>
<rect x="478.94" y="414.9" width="2.95" height="14.1"/>
<rect x="482.37" y="411.05" width="2.95" height="17.95"/>
<rect x="485.8" y="404.36" width="2.95" height="24.64"/>
<rect x="489.23" y="410.22" width="2.95" height="18.78"/>
<rect x="492.65" y="404.87" width="2.95" height="24.13"/>
<rect x="496.08" y="411.05" width="2.95" height="17.95"/>
<rect x="502.94" y="413.23" width="2.95" height="15.77"/>
<rect x="506.38" y="415.23" width="2.95" height="13.77"/>
<rect x="513.24" y="416.07" width="2.95" height="12.93"/>
<rect x="516.67" y="411.89" width="2.95" height="17.11"/>
<rect x="520.1" y="413.23" width="2.95" height="15.77"/>
<rect x="523.52" y="411.05" width="2.95" height="17.95"/>
<rect x="530.38" y="407.71" width="2.95" height="21.29"/>
<rect x="533.82" y="413.9" width="2.95" height="15.1"/>
<rect x="537.25" y="413.9" width="2.95" height="15.1"/>
<rect x="550.97" y="414.9" width="2.95" height="14.1"/>
<rect x="554.39" y="416.91" width="2.95" height="12.09"/>
<rect x="561.25" y="416.07" width="2.95" height="12.93"/>
<rect x="568.12" y="412.73" width="2.95" height="16.27"/>
<rect x="578.4" y="415.23" width="2.95" height="13.77"/>
<rect x="585.26" y="416.07" width="2.95" height="12.93"/>
<rect x="588.7" y="414.9" width="2.95" height="14.1"/>
<rect x="592.12" y="417.24" width="2.95" height="11.76"/>
<rect x="598.99" y="415.23" width="2.95" height="13.77"/>
<rect x="605.85" y="416.91" width="2.95" height="12.09"/>
<rect x="612.71" y="416.91" width="2.95" height="12.09"/>
<rect x="626.42" y="412.22" width="2.95" height="16.78"/>
<rect x="629.86" y="413.9" width="2.95" height="15.1"/>
<rect x="633.28" y="413.23" width="2.95" height="15.77"/>
<rect x="653.87" y="415.23" width="2.95" height="13.77"/>
<rect x="660.73" y="413.9" width="2.95" height="15.1"/>
<rect x="664.15" y="413.9" width="2.95" height="15.1"/>
<rect x="667.59" y="407.71" width="2.95" height="21.29"/>
<rect x="674.45" y="417.24" width="2.95" height="11.76"/>
<rect x="688.16" y="411.89" width="2.95" height="17.11"/>
<rect x="691.6" y="406.87" width="2.95" height="22.13"/>
<rect x="695.02" y="403.86" width="2.95" height="25.14"/>
<rect x="705.32" y="411.56" width="2.95" height="17.44"/>
<rect x="708.75" y="415.23" width="2.95" height="13.77"/>
<rect x="712.17" y="411.56" width="2.95" height="17.44"/>
<rect x="715.61" y="407.21" width="2.95" height="21.79"/>
<rect x="719.03" y="412.73" width="2.95" height="16.27"/>
<rect x="722.47" y="416.07" width="2.95" height="12.93"/>
<rect x="736.19" y="416.91" width="2.95" height="12.09"/>
<rect x="739.62" y="412.22" width="2.95" height="16.78"/>
<rect x="746.48" y="414.9" width="2.95" height="14.1"/>
<rect x="756.76" y="412.22" width="2.95" height="16.78"/>
<rect x="760.2" y="412.73" width="2.95" height="16.27"/>
<rect x="773.91" y="418.24" width="2.95" height="10.76"/>
<rect x="777.35" y="416.91" width="2.95" height="12.09"/>
<rect x="780.77" y="414.9" width="2.95" height="14.1"/>
<rect x="784.21" y="401.52" width="2.95" height="27.48"/>
<rect x="787.63" y="400.52" width="2.95" height="28.48"/>
<rect x="797.93" y="412.22" width="2.95" height="16.78"/>
<rect x="811.64" y="403.86" width="2.95" height="25.14"/>
<rect x="815.08" y="411.05" width="2.95" height="17.95"/>
<rect x="821.94" y="414.9" width="2.95" height="14.1"/>
<rect x="828.79" y="412.22" width="2.95" height="16.78"/>
<rect x="839.09" y="406.04" width="2.95" height="22.96"/>
<rect x="849.38" y="404.87" width="2.95" height="24.13"/>
<rect x="856.24" y="412.22" width="2.95" height="16.78"/>
<rect x="863.1" y="421.09" width="2.95" height="7.91"/>
</g>
<g fill="#ff7b80">
<rect x="2.16" y="407.71" width="2.95" height="21.29"/>
<rect x="19.31" y="412.73" width="2.95" height="16.27"/>
<rect x="22.74" y="411.05" width="2.95" height="17.95"/>
<rect x="26.18" y="411.05" width="2.95" height="17.95"/>
<rect x="29.61" y="408.88" width="2.95" height="20.12"/>
<rect x="36.46" y="413.9" width="2.95" height="15.1"/>
<rect x="39.9" y="408.21" width="2.95" height="20.79"/>
<rect x="43.33" y="407.21" width="2.95" height="21.79"/>
<rect x="46.76" y="404.87" width="2.95" height="24.13"/>
<rect x="50.19" y="403.19" width="2.95" height="25.81"/>
<rect x="67.34" y="418.08" width="2.95" height="10.92"/>
<rect x="70.77" y="413.23" width="2.95" height="15.77"/>
<rect x="77.63" y="414.9" width="2.95" height="14.1"/>
<rect x="91.35" y="396.51" width="2.95" height="32.49"/>
<rect x="94.78" y="407.71" width="2.95" height="21.29"/>
<rect x="98.21" y="409.88" width="2.95" height="19.12"/>
<rect x="101.64" y="409.88" width="2.95" height="19.12"/>
<rect x="105.07" y="410.55" width="2.95" height="18.45"/>
<rect x="111.93" y="410.22" width="2.95" height="18.78"/>
<rect x="129.08" y="407.21" width="2.95" height="21.79"/>
<rect x="132.51" y="353.7" width="2.95" height="75.3"/>
<rect x="139.37" y="385.97" width="2.95" height="43.03"/>
<rect x="146.23" y="393.16" width="2.95" height="35.84"/>
<rect x="149.66" y="394.33" width="2.95" height="34.67"/>
<rect x="170.24" y="412.73" width="2.95" height="16.27"/>
<rect x="173.67" y="413.9" width="2.95" height="15.1"/>
<rect x="187.39" y="413.23" width="2.95" height="15.77"/>
<rect x="194.25" y="407.71" width="2.95" height="21.29"/>
<rect x="197.68" y="405.54" width="2.95" height="23.46"/>
<rect x="201.11" y="403.53" width="2.95" height="25.47"/>
<rect x="207.97" y="388.14" width="2.95" height="40.86"/>
<rect x="214.83" y="390.99" width="2.95" height="38.01"/>
<rect x="225.12" y="398.85" width="2.95" height="30.15"/>
<rect x="231.98" y="394.83" width="2.95" height="34.17"/>
<rect x="242.27" y="401.52" width="2.95" height="27.48"/>
<rect x="249.13" y="405.54" width="2.95" height="23.46"/>
<rect x="252.56" y="401.52" width="2.95" height="27.48"/>
<rect x="262.85" y="403.86" width="2.95" height="25.14"/>
<rect x="269.7" y="412.73" width="2.95" height="16.27"/>
<rect x="273.13" y="401.52" width="2.95" height="27.48"/>
<rect x="276.56" y="406.87" width="2.95" height="22.13"/>
<rect x="280" y="407.71" width="2.95" height="21.29"/>
<rect x="283.43" y="401.52" width="2.95" height="27.48"/>
<rect x="293.71" y="398.18" width="2.95" height="30.82"/>
<rect x="297.14" y="379.78" width="2.95" height="49.22"/>
<rect x="304" y="385.13" width="2.95" height="43.87"/>
<rect x="310.87" y="388.81" width="2.95" height="40.19"/>
<rect x="317.72" y="403.86" width="2.95" height="25.14"/>
<rect x="324.58" y="392.32" width="2.95" height="36.68"/>
<rect x="328.01" y="402.19" width="2.95" height="26.81"/>
<rect x="331.44" y="402.19" width="2.95" height="26.81"/>
<rect x="348.59" y="409.88" width="2.95" height="19.12"/>
<rect x="355.45" y="406.87" width="2.95" height="22.13"/>
<rect x="365.75" y="416.91" width="2.95" height="12.09"/>
<rect x="369.18" y="413.9" width="2.95" height="15.1"/>
<rect x="379.46" y="416.91" width="2.95" height="12.09"/>
<rect x="393.19" y="407.71" width="2.95" height="21.29"/>
<rect x="403.48" y="413.9" width="2.95" height="15.1"/>
<rect x="406.9" y="403.86" width="2.95" height="25.14"/>
<rect x="413.76" y="410.22" width="2.95" height="18.78"/>
<rect x="420.62" y="400.52" width="2.95" height="28.48"/>
<rect x="427.49" y="398.01" width="2.95" height="30.99"/>
<rect x="441.2" y="407.71" width="2.95" height="21.29"/>
<rect x="454.93" y="413.23" width="2.95" height="15.77"/>
<rect x="461.79" y="411.89" width="2.95" height="17.11"/>
<rect x="468.64" y="416.07" width="2.95" height="12.93"/>
<rect x="475.5" y="406.04" width="2.95" height="22.96"/>
<rect x="499.51" y="408.88" width="2.95" height="20.12"/>
<rect x="509.81" y="416.07" width="2.95" height="12.93"/>
<rect x="526.96" y="416.07" width="2.95" height="12.93"/>
<rect x="540.67" y="415.23" width="2.95" height="13.77"/>
<rect x="544.11" y="417.24" width="2.95" height="11.76"/>
<rect x="547.53" y="411.05" width="2.95" height="17.95"/>
<rect x="557.83" y="417.24" width="2.95" height="11.76"/>
<rect x="564.69" y="414.9" width="2.95" height="14.1"/>
<rect x="571.54" y="408.21" width="2.95" height="20.79"/>
<rect x="574.98" y="409.88" width="2.95" height="19.12"/>
<rect x="581.84" y="414.9" width="2.95" height="14.1"/>
<rect x="595.55" y="416.07" width="2.95" height="12.93"/>
<rect x="602.41" y="411.89" width="2.95" height="17.11"/>
<rect x="609.27" y="413.9" width="2.95" height="15.1"/>
<rect x="616.13" y="411.89" width="2.95" height="17.11"/>
<rect x="619.57" y="408.88" width="2.95" height="20.12"/>
<rect x="623" y="416.07" width="2.95" height="12.93"/>
<rect x="636.72" y="406.87" width="2.95" height="22.13"/>
<rect x="640.14" y="402.69" width="2.95" height="26.31"/>
<rect x="643.58" y="406.04" width="2.95" height="22.96"/>
<rect x="647" y="407.71" width="2.95" height="21.29"/>
<rect x="650.44" y="413.23" width="2.95" height="15.77"/>
<rect x="657.29" y="408.21" width="2.95" height="20.79"/>
<rect x="671.01" y="414.9" width="2.95" height="14.1"/>
<rect x="677.88" y="415.23" width="2.95" height="13.77"/>
<rect x="681.31" y="416.07" width="2.95" height="12.93"/>
<rect x="684.74" y="408.88" width="2.95" height="20.12"/>
<rect x="698.46" y="411.05" width="2.95" height="17.95"/>
<rect x="701.88" y="415.23" width="2.95" height="13.77"/>
<rect x="725.89" y="416.07" width="2.95" height="12.93"/>
<rect x="729.33" y="413.9" width="2.95" height="15.1"/>
<rect x="732.75" y="416.07" width="2.95" height="12.93"/>
<rect x="743.04" y="403.86" width="2.95" height="25.14"/>
<rect x="749.9" y="409.88" width="2.95" height="19.12"/>
<rect x="753.34" y="408.88" width="2.95" height="20.12"/>
<rect x="763.62" y="416.91" width="2.95" height="12.09"/>
<rect x="767.06" y="417.24" width="2.95" height="11.76"/>
<rect x="770.49" y="413.9" width="2.95" height="15.1"/>
<rect x="791.07" y="412.22" width="2.95" height="16.78"/>
<rect x="794.5" y="412.22" width="2.95" height="16.78"/>
<rect x="801.36" y="411.56" width="2.95" height="17.44"/>
<rect x="804.78" y="413.23" width="2.95" height="15.77"/>
<rect x="808.22" y="408.21" width="2.95" height="20.79"/>
<rect x="818.5" y="412.73" width="2.95" height="16.27"/>
<rect x="825.37" y="409.88" width="2.95" height="19.12"/>
<rect x="832.23" y="412.73" width="2.95" height="16.27"/>
<rect x="835.65" y="408.88" width="2.95" height="20.12"/>
<rect x="842.51" y="397.17" width="2.95" height="31.83"/>
<rect x="845.95" y="397.17" width="2.95" height="31.83"/>
<rect x="852.81" y="398.85" width="2.95" height="30.15"/>
<rect x="859.66" y="417.24" width="2.95" height="11.76"/>
</g>
<polyline fill="none" stroke="#3c3c3c" stroke-width="0.95" stroke-linejoin="round" points="0,405.2 10.37,406.87 20.9,408.21 30.94,408.88 41.14,408.55 51.51,408.21 58.36,407.71 65.22,408.88 75.42,410.22 82.27,409.88 88.63,408.88 96.15,408.55 107.02,408.88 117.06,409.05 127.09,409.05 130.43,407.71 133.78,404.36 137.12,401.86 140.64,400.52 143.98,399.85 147.49,399.52 150,399.35 160.03,401.02 170.9,403.19 181.77,404.87 191.81,406.37 198.49,406.37 205.18,405.2 211.87,403.19 219.4,401.52 226.92,401.02 233.61,400.18 240.3,399.85 250.33,400.52 260.37,401.52 267.06,402.19 273.75,403.19 282.11,403.53 292.14,403.86 297.99,401.86 300,400.18 305.02,397.68 310.03,395.17 316.72,396 325.08,397.17 333.44,398.18 343.48,399.85 353.51,401.86 363.55,403.19 370.23,404.87 380.27,406.37 390.3,406.04 400.33,406.54 407.02,407.21 417.06,407.71 423.75,406.87 428.76,405.54 435.45,405.54 443.81,406.54 450,407.71 460.03,408.88 470.07,409.88 480.1,410.22 490.13,409.38 500.17,409.38 510.2,410.55 520.23,411.22 530.27,411.39 540.3,411.89 550.33,412.39 560.37,413.06 570.4,412.73 577.09,412.56 587.12,413.23 597.16,413.73 600,413.73 610.03,413.9 620.07,413.56 630.1,413.56 638.46,412.73 645.15,411.56 655.18,411.89 666.89,412.22 676.92,412.73 686.96,412.39 695.32,411.39 707.02,411.56 717.06,411.22 727.09,411.89 738.8,412.73 747.16,412.22 750,411.56 760.03,412.22 770.07,412.89 781.77,413.23 788.46,411.89 798.49,411.56 808.53,411.05 818.56,411.22 828.6,411.39 836.96,411.22 843.65,409.38 850.33,407.71 857.02,407.71 864.55,409.72"/>
<polyline fill="none" stroke="#f89ca1" stroke-width="1.2" stroke-linejoin="round" points="0,518.23 10.31,519.39 20.62,518.23 30.77,518.89 41.08,519.23 51.22,519.89 58.04,520.39 68.19,519.39 75.17,518.56 81.99,517.4 88.81,516.57 95.63,517.9 102.45,518.73 109.27,519.06 116.08,519.06 123.07,517.9 129.72,516.9 136.71,517.73 143.52,515.9 150,514.57 154.99,514.9 160.81,512.41 167.46,509.58 174.61,506.59 181.6,503.76 188.25,501.93 194.9,500.77 201.89,501.27 208.87,502.93 215.69,504.09 222.51,504.92 229.5,505.59 236.15,505.92 243.13,505.59 250.28,505.42 257.27,505.76 264.09,505.26 270.91,504.59 277.73,504.92 284.71,505.42 291.36,505.09 298.51,505.92 300,506.9 304.99,507.4 311.97,505.24 318.96,502.91 325.45,501.24 332.43,500.25 339.42,499.58 346.57,497.42 353.22,495.42 360.2,494.09 367.02,492.76 373.84,491.27 380.66,489.94 387.31,487.44 394.46,483.62 401.12,480.29 408.1,477.46 414.75,475.8 418.25,474.64 425.06,475.3 431.88,475.8 438.87,475.47 445.69,475.8 450,476.58 459.98,476.24 469.62,476.58 476.61,476.58 483.26,474.91 490.08,472.42 496.9,470.42 503.72,468.76 510.7,467.1 517.36,465.77 524.51,464.44 531.16,463.27 538.14,462.11 544.8,461.28 551.78,460.78 558.6,459.95 565.58,459.28 572.57,458.62 579.39,457.78 586.37,456.62 593.03,455.79 600,455.43 610.31,453.61 620.79,452.44 631.1,450.78 641.24,448.78 651.56,447.45 661.87,445.79 672.34,444.46 682.32,443.63 692.63,442.46 703.11,441.3 713.42,440.3 720.08,439.14 726.89,437.97 733.88,437.14 740.86,436.97 747.52,437.81 750,438.64 757.48,440.3 764.64,441.13 771.62,441.3 778.61,440.8 785.42,439.64 792.41,439.64 799.39,440.8 806.05,442.46 812.86,444.13 819.02,444.46 826.5,444.62 833.15,443.79 839.81,443.29 847.29,444.62 854.28,443.63 861.09,442.46 864.42,441.96"/>
<polyline fill="none" stroke="#4caf50" stroke-width="1.5" stroke-linejoin="round" points="0,522.89 3.33,521.56 6.98,520.89 10.31,521.89 13.8,519.56 17.13,517.07 20.62,517.56 24.11,518.73 27.44,518.23 30.77,520.23 34.26,518.56 37.59,518.23 41.08,519.89 44.4,520.89 47.73,519.06 51.22,522.39 54.55,524.38 58.04,520.72 61.53,517.9 64.86,517.56 68.19,516.73 71.68,516.57 75.17,516.4 78.5,518.23 81.99,515.73 85.48,512.91 88.81,514.4 92.3,519.06 95.63,519.89 99.12,521.56 102.45,518.73 105.94,519.89 109.27,517.56 112.76,520.72 116.08,519.39 119.58,517.56 123.07,514.9 126.39,512.41 129.72,514.9 133.21,524.55 136.71,515.24 140.03,514.57 143.52,509.25 146.85,514.07 150,512.41 153.33,513.24 157.48,508.58 160.81,504.59 164.14,501.6 167.46,500.43 170.79,500.43 174.61,499.6 177.94,497.94 181.6,495.45 184.92,496.94 188.25,497.11 191.58,495.45 195.24,499.94 198.56,502.93 201.89,503.76 205.38,503.59 208.87,510.25 212.37,504.43 215.69,508.75 219.18,507.42 222.51,504.92 226,509.42 229.5,505.42 232.82,508.25 236.15,507.92 239.81,505.76 243.13,505.76 246.96,502.43 250.28,504.09 253.78,506.26 257.27,507.59 260.6,506.92 264.09,504.09 267.41,502.43 270.91,500.93 274.4,504.09 277.73,506.26 281.22,508.75 284.71,507.42 288.04,504.43 291.36,502.76 295.02,507.42 298.51,511.08 301.66,506.9 304.66,511.89 308.32,503.57 311.97,499.58 315.47,496.26 318.96,497.92 322.45,497.42 325.45,495.76 329.1,497.42 332.43,498.25 335.92,497.25 339.42,499.58 342.91,495.76 346.57,492.76 349.89,492.1 353.22,491.77 356.55,488.27 360.2,491.1 363.53,490.77 367.02,490.43 370.35,489.44 373.84,486.94 377.33,486.61 380.66,486.94 383.99,483.78 387.31,479.96 390.97,475.8 394.46,474.97 397.79,473.3 401.12,470.81 404.44,469.15 408.1,471.97 411.43,471.97 414.75,471.14 418.25,468.32 421.74,474.14 425.06,476.63 428.56,478.29 431.88,476.63 435.54,474.47 438.87,472.81 442.19,474.97 445.69,476.63 449.18,478.29 450,478.24 452.49,476.58 455.82,477.91 459.65,474.91 462.97,475.75 466.3,475.41 469.62,476.91 472.95,474.58 476.61,475.75 479.94,474.42 483.26,471.26 486.75,467.43 490.08,468.26 493.57,466.1 496.9,464.94 500.39,466.27 503.72,463.61 507.38,463.27 510.7,463.77 514.36,462.11 517.36,461.94 521.18,459.95 524.51,461.28 527.83,460.78 531.16,461.11 534.82,459.11 538.14,458.28 541.47,458.78 544.8,460.28 548.12,461.61 551.78,459.45 555.27,457.12 558.6,458.28 562.26,456.29 565.58,458.78 568.91,456.29 572.57,458.62 576.06,458.28 579.39,456.12 583.05,455.46 586.37,453.79 589.7,454.29 593.03,453.29 596.35,452.8 600,452.11 603.33,451.94 606.98,451.11 610.31,450.45 613.64,450.78 617.13,453.61 620.79,450.78 624.11,450.45 627.77,448.78 631.1,447.78 634.59,445.79 637.92,444.46 641.24,444.96 644.57,446.95 648.23,445.79 651.56,445.46 654.88,443.79 658.21,442.96 661.87,444.46 665.19,442.13 668.52,442.13 672.34,444.13 675.67,442.96 679,441.96 682.32,443.29 685.65,444.46 689.31,442.8 692.63,442.13 696.13,438.8 699.45,439.97 703.11,440.47 706.44,439.64 709.76,438.8 713.42,439.47 716.75,436.64 720.08,434.98 723.57,436.14 726.89,436.31 730.55,435.81 733.88,437.14 737.54,435.48 740.86,437.14 744.19,440.3 747.52,439.97 750,442.13 754.16,443.79 757.48,443.29 761.14,441.3 764.64,442.46 768.29,442.8 771.62,442.46 774.95,441.63 778.61,441.13 781.93,439.14 785.42,436.31 788.75,437.97 792.41,439.64 795.73,441.63 799.39,443.79 802.72,446.29 806.05,448.28 809.37,450.45 812.86,447.12 815.69,444.46 819.02,444.46 822.68,444.13 826.5,444.62 829.83,442.3 833.15,442.13 836.48,443.29 839.81,441.63 843.96,446.29 847.29,446.29 850.62,443.29 854.28,438.8 857.6,438.8 861.09,440.47 864.42,439.14"/>
<g shape-rendering="crispEdges" stroke-width="1">
<line x1="900.5" x2="900.5" y1="0" y2="550" stroke="#7d7d7d"/>
<line x1="0" x2="932" y1="530.5" y2="530.5" stroke="#7a7a7a"/>
<line x1="0" x2="932" y1="349.5" y2="349.5" stroke="#575a63"/>
<line x1="0" x2="932" y1="429.5" y2="429.5" stroke="#575a63"/>
</g>
<g transform="translate(206.21,0)" fill="none" stroke="#1faa8c" stroke-width="1.15" stroke-linejoin="round"><path d="M0 333.2L4.6 337.2V345.2Q4.6 346.2 3.6 346.2H-3.6Q-4.6 346.2 -4.6 345.2V337.2Z" fill="#fff"/><path d="M1.3 337.8H-1.1V343.2H1.3M-1.1 340.5H0.8" stroke-width="0.95" stroke="#35ad90"/></g>
<g transform="translate(422.3,0)" fill="none" stroke="#1faa8c" stroke-width="1.15" stroke-linejoin="round"><path d="M0 333.2L4.6 337.2V345.2Q4.6 346.2 3.6 346.2H-3.6Q-4.6 346.2 -4.6 345.2V337.2Z" fill="#fff"/><path d="M1.3 337.8H-1.1V343.2H1.3M-1.1 340.5H0.8" stroke-width="0.95" stroke="#35ad90"/></g>
<g transform="translate(638.39,0)" fill="none" stroke="#1faa8c" stroke-width="1.15" stroke-linejoin="round"><path d="M0 333.2L4.6 337.2V345.2Q4.6 346.2 3.6 346.2H-3.6Q-4.6 346.2 -4.6 345.2V337.2Z" fill="#fff"/><path d="M1.3 337.8H-1.1V343.2H1.3M-1.1 340.5H0.8" stroke-width="0.95" stroke="#35ad90"/></g>
<g transform="translate(840.76,0)" fill="none" stroke="#1faa8c" stroke-width="1.15" stroke-linejoin="round"><path d="M0 333.2L4.6 337.2V345.2Q4.6 346.2 3.6 346.2H-3.6Q-4.6 346.2 -4.6 345.2V337.2Z" fill="#fff"/><path d="M1.3 337.8H-1.1V343.2H1.3M-1.1 340.5H0.8" stroke-width="0.95" stroke="#35ad90"/></g>
<g><ellipse cx="864.6" cy="340.2" rx="4.9" ry="6.6" fill="#fff" stroke="#b03a48" stroke-width="0.9" stroke-dasharray="3.2 1.1"/>
<path d="M866.1 336.8L863.1 340.5L866.1 340.09999999999997L863.4 343.9" fill="none" stroke="#6b2c32" stroke-width="1" stroke-linejoin="round" stroke-linecap="round"/>
<circle cx="868.0" cy="335.4" r="1.45" fill="#f0283c"/>
<path d="M858.9 339.99999999999994L859.6999999999999 341.79999999999995L861.5 342.59999999999997L859.6999999999999 343.4L858.9 345.2L858.1 343.4L856.3 342.59999999999997L858.1 341.79999999999995Z" fill="#8a8a8a"/></g>
<text x="4.4" y="14.9" font-size="9.3" fill="#222" font-weight="normal" text-anchor="start" textLength="126.6" lengthAdjust="spacingAndGlyphs" stroke="#222" stroke-width="0.25">NVDA · NVIDIA Corporation · 1D · NASDAQ</text>
<rect x="902.5" y="2.5" width="27" height="18" rx="2.5" fill="#fff" stroke="#eaecef" stroke-width="1"/>
<text x="907" y="14.9" font-size="9.3" fill="#222" font-weight="normal" text-anchor="start" textLength="10.2" lengthAdjust="spacingAndGlyphs" stroke="#222" stroke-width="0.2">USD</text>
<text x="904.8" y="41.7" font-size="8.3" fill="#4a4a4a" font-weight="normal" text-anchor="start" textLength="16.8" lengthAdjust="spacingAndGlyphs">200.00</text>
<text x="904.8" y="97.9" font-size="8.3" fill="#4a4a4a" font-weight="normal" text-anchor="start" textLength="16.8" lengthAdjust="spacingAndGlyphs">170.00</text>
<text x="904.8" y="118.8" font-size="8.3" fill="#4a4a4a" font-weight="normal" text-anchor="start" textLength="16.8" lengthAdjust="spacingAndGlyphs">160.00</text>
<text x="904.8" y="142" font-size="8.3" fill="#4a4a4a" font-weight="normal" text-anchor="start" textLength="16.8" lengthAdjust="spacingAndGlyphs">150.00</text>
<text x="904.8" y="171" font-size="8.3" fill="#4a4a4a" font-weight="normal" text-anchor="start" textLength="16.8" lengthAdjust="spacingAndGlyphs">138.00</text>
<text x="904.8" y="192.1" font-size="8.3" fill="#4a4a4a" font-weight="normal" text-anchor="start" textLength="16.8" lengthAdjust="spacingAndGlyphs">130.00</text>
<text x="904.8" y="214" font-size="8.3" fill="#4a4a4a" font-weight="normal" text-anchor="start" textLength="16.8" lengthAdjust="spacingAndGlyphs">122.00</text>
<text x="904.8" y="236.1" font-size="8.3" fill="#4a4a4a" font-weight="normal" text-anchor="start" textLength="16.8" lengthAdjust="spacingAndGlyphs">114.50</text>
<text x="904.8" y="260.8" font-size="8.3" fill="#4a4a4a" font-weight="normal" text-anchor="start" textLength="16.8" lengthAdjust="spacingAndGlyphs">106.50</text>
<text x="904.8" y="281.9" font-size="8.3" fill="#4a4a4a" font-weight="normal" text-anchor="start" textLength="16.8" lengthAdjust="spacingAndGlyphs">100.50</text>
<text x="904.8" y="303.1" font-size="8.3" fill="#4a4a4a" font-weight="normal" text-anchor="start" textLength="14" lengthAdjust="spacingAndGlyphs">94.50</text>
<text x="904.8" y="325.6" font-size="8.3" fill="#4a4a4a" font-weight="normal" text-anchor="start" textLength="14" lengthAdjust="spacingAndGlyphs">88.50</text>
<text x="904.8" y="346.1" font-size="8.3" fill="#4a4a4a" font-weight="normal" text-anchor="start" textLength="14" lengthAdjust="spacingAndGlyphs">83.50</text>
<text x="904.8" y="79.1" font-size="8.3" fill="#1a1a1a" font-weight="bold" text-anchor="start" textLength="16.8" lengthAdjust="spacingAndGlyphs">179.83</text>
<text x="904.8" y="88" font-size="8.3" fill="#4a4a4a" font-weight="normal" text-anchor="start" textLength="21.5" lengthAdjust="spacingAndGlyphs">03:51:04</text>
<text x="904.8" y="363.2" font-size="8.3" fill="#4a4a4a" font-weight="normal" text-anchor="start" textLength="14.2" lengthAdjust="spacingAndGlyphs">750 M</text>
<text x="904.8" y="385.5" font-size="8.3" fill="#4a4a4a" font-weight="normal" text-anchor="start" textLength="14.2" lengthAdjust="spacingAndGlyphs">500 M</text>
<text x="904.8" y="407.7" font-size="8.3" fill="#4a4a4a" font-weight="normal" text-anchor="start" textLength="14.2" lengthAdjust="spacingAndGlyphs">250 M</text>
<rect x="900.4" y="404.4" width="28.4" height="11.3" fill="#000"/>
<text x="904.8" y="412.9" font-size="8.3" fill="#fff" font-weight="bold" text-anchor="start" textLength="22.4" lengthAdjust="spacingAndGlyphs">206.59 M</text>
<rect x="900.4" y="415.7" width="22.6" height="11.2" fill="#52f452"/>
<text x="904.8" y="424.2" font-size="8.3" fill="#000" font-weight="bold" text-anchor="start" textLength="15.8" lengthAdjust="spacingAndGlyphs">86.8 M</text>
<rect x="900.4" y="433.3" width="24.2" height="11.8" fill="#60ac68"/>
<text x="904.8" y="442.1" font-size="8.3" fill="#111" font-weight="bold" text-anchor="start" textLength="17.8" lengthAdjust="spacingAndGlyphs">74.16 B</text>
<rect x="900.4" y="445.1" width="24.2" height="11" fill="#e0424f"/>
<text x="904.8" y="453.5" font-size="8.3" fill="#fff" font-weight="bold" text-anchor="start" textLength="17.8" lengthAdjust="spacingAndGlyphs">73.99 B</text>
<text x="904.8" y="477" font-size="8.3" fill="#4a4a4a" font-weight="normal" text-anchor="start" textLength="10.3" lengthAdjust="spacingAndGlyphs">72 B</text>
<text x="904.8" y="509.4" font-size="8.3" fill="#4a4a4a" font-weight="normal" text-anchor="start" textLength="10.3" lengthAdjust="spacingAndGlyphs">70 B</text>
<text x="4.2" y="364.1" font-size="8.6" fill="#444" font-weight="normal" text-anchor="start" textLength="8.4" lengthAdjust="spacingAndGlyphs">Vol</text>
<text x="4.2" y="376.3" font-size="8.6" fill="#444" font-weight="normal" text-anchor="start" textLength="99.8" lengthAdjust="spacingAndGlyphs">EMA (25, Vol: Volume, 0, SMA, 25)</text>
<text x="4.2" y="444.5" font-size="8.6" fill="#444" font-weight="normal" text-anchor="start" textLength="33.4" lengthAdjust="spacingAndGlyphs">Accum/Dist</text>
<text x="4.2" y="456.5" font-size="8.6" fill="#444" font-weight="normal" text-anchor="start" textLength="64" lengthAdjust="spacingAndGlyphs">EMA (12, Accum/Dist)</text>
<text x="5.75" y="543" font-size="8.8" fill="#444" font-weight="normal" text-anchor="start" textLength="9.5" lengthAdjust="spacingAndGlyphs">Dec</text>
<text x="76.18" y="543" font-size="8.8" fill="#2a2a2a" font-weight="normal" text-anchor="start" textLength="12.7" lengthAdjust="spacingAndGlyphs" stroke="#2a2a2a" stroke-width="0.3">2025</text>
<text x="146.33" y="543" font-size="8.8" fill="#444" font-weight="normal" text-anchor="start" textLength="9.6" lengthAdjust="spacingAndGlyphs">Feb</text>
<text x="211.5" y="543" font-size="8.8" fill="#444" font-weight="normal" text-anchor="start" textLength="9.6" lengthAdjust="spacingAndGlyphs">Mar</text>
<text x="283.53" y="543" font-size="8.8" fill="#444" font-weight="normal" text-anchor="start" textLength="9.6" lengthAdjust="spacingAndGlyphs">Apr</text>
<text x="354.86" y="543" font-size="8.8" fill="#444" font-weight="normal" text-anchor="start" textLength="11" lengthAdjust="spacingAndGlyphs">May</text>
<text x="427.59" y="543" font-size="8.8" fill="#444" font-weight="normal" text-anchor="start" textLength="9.6" lengthAdjust="spacingAndGlyphs">Jun</text>
<text x="497.24" y="543" font-size="8.8" fill="#444" font-weight="normal" text-anchor="start" textLength="7.5" lengthAdjust="spacingAndGlyphs">Jul</text>
<text x="571.15" y="543" font-size="8.8" fill="#444" font-weight="normal" text-anchor="start" textLength="10.6" lengthAdjust="spacingAndGlyphs">Aug</text>
<text x="643.33" y="543" font-size="8.8" fill="#444" font-weight="normal" text-anchor="start" textLength="10.3" lengthAdjust="spacingAndGlyphs">Sep</text>
<text x="715.71" y="543" font-size="8.8" fill="#444" font-weight="normal" text-anchor="start" textLength="9.6" lengthAdjust="spacingAndGlyphs">Oct</text>
<text x="794" y="543" font-size="8.8" fill="#444" font-weight="normal" text-anchor="start" textLength="10.8" lengthAdjust="spacingAndGlyphs">Nov</text>
<text x="859.82" y="543" font-size="8.8" fill="#444" font-weight="normal" text-anchor="start" textLength="9.5" lengthAdjust="spacingAndGlyphs">Dec</text>
</svg>
</body></html>
